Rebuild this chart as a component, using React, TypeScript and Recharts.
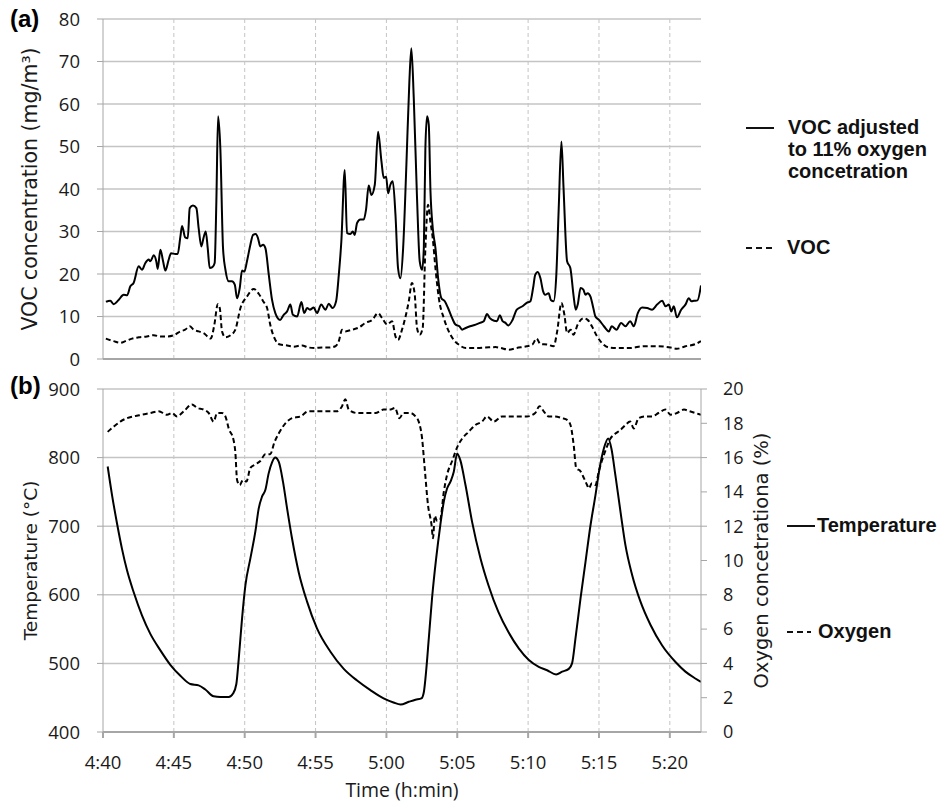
import React from 'react';
import { LineChart, Line, XAxis, YAxis, CartesianGrid, Label, ReferenceLine } from 'recharts';

// minutes after 4:40, value
const vocAdjusted: [number, number][] = [
  [0.2, 13.5], [0.33, 13.6], [0.52, 13.7], [0.75, 12.9], [1.1, 13.9], [1.46, 15.1], [1.7, 15.0],
  [1.93, 17.1], [2.16, 17.9], [2.52, 21.8], [2.75, 21.0], [2.99, 22.6], [3.22, 23.4], [3.34, 23.0],
  [3.58, 24.4], [3.76, 23.0], [3.86, 21.2], [4.05, 25.7], [4.24, 23.0], [4.4, 20.8], [4.64, 23.4],
  [4.8, 24.9], [5.1, 24.7], [5.27, 24.7], [5.46, 28.8], [5.58, 31.3], [5.8, 28.6], [5.98, 28.4],
  [6.12, 35.5], [6.35, 36.1], [6.59, 35.5], [6.75, 30.8], [6.94, 26.5], [7.1, 28.6], [7.25, 30.0],
  [7.39, 26.1], [7.53, 21.4], [7.72, 21.6], [7.88, 22.6], [8.0, 37.1], [8.12, 57.1], [8.28, 49.6],
  [8.47, 26.1], [8.64, 21.0], [8.87, 18.3], [9.1, 18.3], [9.3, 17.5], [9.46, 14.3], [9.65, 16.7],
  [9.81, 20.8], [9.98, 20.6], [10.16, 23.0], [10.4, 26.9], [10.59, 29.2], [10.78, 29.4], [10.94, 28.4],
  [11.1, 26.5], [11.3, 26.9], [11.46, 26.1], [11.7, 19.8], [11.93, 13.9], [12.16, 10.8], [12.5, 9.2],
  [12.75, 10.4], [12.99, 11.2], [13.22, 12.8], [13.4, 10.4], [13.7, 10.0], [14.0, 13.4], [14.2, 10.8],
  [14.4, 12.0], [14.6, 11.6], [14.87, 12.1], [15.1, 10.8], [15.4, 12.8], [15.7, 11.6], [15.93, 13.0],
  [16.2, 12.0], [16.45, 13.6], [16.64, 19.8], [16.82, 27.7], [17.06, 44.5], [17.22, 29.6], [17.46, 29.4],
  [17.62, 30.0], [17.76, 29.2], [17.93, 32.0], [18.16, 32.8], [18.4, 32.8], [18.56, 35.1], [18.75, 40.8],
  [18.94, 38.6], [19.18, 41.0], [19.41, 53.5], [19.65, 46.5], [19.81, 42.6], [19.98, 42.9], [20.12, 39.0],
  [20.28, 41.0], [20.45, 41.8], [20.64, 33.9], [20.82, 21.4], [20.99, 19.0], [21.18, 26.1], [21.41, 45.7],
  [21.62, 65.3], [21.76, 73.1], [21.93, 61.4], [22.16, 37.9], [22.35, 23.0], [22.52, 21.0], [22.64, 26.1],
  [22.75, 49.6], [22.87, 57.1], [22.99, 55.1], [23.11, 39.4], [23.27, 30.8], [23.46, 26.1], [23.65, 19.0],
  [23.88, 14.3], [24.12, 13.6], [24.35, 12.0], [24.64, 9.6], [24.87, 8.1], [25.15, 7.7], [25.34, 6.9],
  [25.6, 7.3], [25.9, 7.7], [26.3, 8.1], [26.6, 8.5], [26.87, 8.9], [27.1, 10.6], [27.3, 9.6], [27.6, 9.0],
  [27.8, 8.9], [28.0, 10.3], [28.2, 8.9], [28.4, 8.5], [28.6, 7.9], [28.9, 9.2], [29.2, 11.6], [29.6, 12.4],
  [29.9, 13.2], [30.16, 13.6], [30.35, 16.7], [30.5, 19.8], [30.68, 20.5], [30.87, 19.0], [31.06, 15.9],
  [31.2, 15.1], [31.45, 15.5], [31.6, 13.9], [31.8, 13.6], [31.99, 19.8], [32.16, 35.5], [32.35, 51.2],
  [32.5, 40.2], [32.75, 23.0], [32.98, 21.4], [33.2, 15.1], [33.36, 11.6], [33.5, 12.8], [33.7, 16.7],
  [33.9, 16.3], [34.05, 15.1], [34.2, 15.5], [34.4, 14.7], [34.6, 12.0], [34.75, 10.0], [35.0, 9.2],
  [35.35, 7.7], [35.7, 6.5], [35.9, 7.7], [36.24, 6.9], [36.56, 8.5], [36.87, 7.7], [37.2, 8.9],
  [37.46, 7.7], [37.74, 10.8], [38.05, 12.1], [38.4, 12.0], [38.75, 11.6], [39.1, 12.8], [39.46, 13.7],
  [39.7, 12.4], [39.93, 12.8], [40.1, 11.2], [40.28, 12.4], [40.5, 9.8], [40.8, 11.6], [41.1, 12.8],
  [41.34, 14.3], [41.52, 13.6], [41.7, 13.7], [41.95, 13.8], [42.2, 17.3],
];

const vocRaw: [number, number][] = [
  [0.2, 4.8], [0.75, 4.2], [1.22, 3.8], [1.58, 4.2], [2.05, 4.8], [2.52, 5.1], [3.1, 5.3], [3.58, 5.6],
  [4.05, 5.3], [4.5, 5.3], [5.0, 5.6], [5.46, 6.5], [5.8, 6.9], [6.12, 7.7], [6.4, 6.9], [6.75, 6.5],
  [7.1, 6.1], [7.6, 4.8], [7.86, 8.1], [8.1, 12.9], [8.24, 12.0], [8.4, 6.5], [8.64, 5.1], [9.0, 5.6],
  [9.34, 6.9], [9.7, 12.0], [10.16, 14.7], [10.64, 16.5], [11.0, 15.3], [11.34, 13.4], [11.58, 12.0],
  [11.8, 8.1], [12.16, 4.5], [12.5, 3.4], [13.0, 3.2], [13.46, 2.9], [14.05, 3.2], [14.5, 2.7],
  [14.98, 2.6], [15.45, 2.7], [15.93, 2.7], [16.4, 3.0], [16.64, 4.2], [16.87, 6.9], [17.1, 6.5],
  [17.58, 6.9], [18.05, 7.4], [18.52, 8.5], [19.0, 9.2], [19.41, 10.8], [19.7, 9.6], [20.05, 8.1],
  [20.4, 8.9], [20.64, 5.3], [20.82, 4.5], [21.1, 6.9], [21.58, 13.6], [21.8, 17.9], [22.0, 15.1],
  [22.16, 7.3], [22.35, 5.7], [22.56, 7.3], [22.75, 26.1], [22.94, 36.3], [23.1, 32.4], [23.27, 28.4],
  [23.46, 21.4], [23.7, 14.3], [24.05, 9.6], [24.4, 6.5], [24.75, 4.5], [25.1, 3.4], [25.6, 2.6],
  [26.3, 2.6], [27.0, 2.7], [27.7, 2.8], [28.05, 2.6], [28.64, 2.2], [29.2, 2.6], [29.9, 3.0],
  [30.3, 3.4], [30.6, 4.8], [30.87, 3.5], [31.35, 3.4], [31.8, 3.0], [32.05, 6.5], [32.35, 13.2],
  [32.56, 10.4], [32.75, 6.1], [33.0, 6.9], [33.2, 5.7], [33.5, 8.1], [33.9, 9.6], [34.2, 9.2],
  [34.5, 7.7], [34.87, 5.3], [35.2, 3.8], [35.7, 2.7], [36.3, 2.6], [37.2, 2.6], [38.16, 3.0],
  [39.1, 3.0], [40.05, 2.7], [40.5, 2.4], [41.1, 3.0], [41.8, 3.5], [42.2, 4.2],
];

const temperature: [number, number][] = [
  [0.33, 787], [0.64, 745], [0.99, 704], [1.34, 667], [1.69, 636], [2.16, 604], [2.75, 570], [3.34, 543],
  [4.05, 519], [4.75, 498], [5.46, 482], [6.16, 470], [6.75, 468], [7.22, 462], [7.81, 452], [8.28, 451],
  [8.87, 451], [9.18, 456], [9.41, 470], [9.58, 507], [9.81, 565], [10.05, 614], [10.4, 653], [10.75, 692],
  [10.99, 726], [11.22, 743], [11.46, 753], [11.69, 777], [11.93, 793], [12.16, 800], [12.4, 794],
  [12.7, 765], [12.99, 726], [13.34, 682], [13.81, 633], [14.4, 590], [15.1, 551], [16.05, 517],
  [16.99, 492], [17.93, 475], [18.87, 461], [19.8, 449], [20.5, 443], [21.0, 440], [21.58, 444],
  [22.05, 447], [22.47, 449], [22.64, 458], [22.8, 488], [22.99, 536], [23.22, 595], [23.51, 653],
  [23.8, 701], [24.05, 736], [24.28, 755], [24.52, 765], [24.75, 779], [24.99, 806], [25.22, 796],
  [25.58, 760], [26.05, 706], [26.64, 653], [27.2, 614], [27.9, 575], [28.6, 546], [29.34, 522],
  [30.05, 505], [30.75, 495], [31.34, 490], [31.98, 484], [32.4, 488], [32.87, 492], [33.1, 500],
  [33.34, 536], [33.7, 595], [34.05, 648], [34.4, 701], [34.75, 745], [35.04, 784], [35.34, 813],
  [35.65, 828], [35.88, 813], [36.16, 774], [36.52, 721], [36.87, 672], [37.34, 629], [37.93, 590],
  [38.64, 556], [39.46, 526], [40.4, 502], [41.1, 488], [41.8, 478], [42.2, 473],
];

const oxygen: [number, number][] = [
  [0.33, 17.5], [0.75, 17.8], [1.22, 18.1], [1.69, 18.3], [2.16, 18.4], [2.75, 18.5], [3.34, 18.6],
  [3.93, 18.7], [4.52, 18.5], [4.87, 18.6], [5.22, 18.4], [5.7, 18.7], [6.28, 19.1], [6.64, 18.9],
  [7.1, 18.8], [7.46, 18.6], [7.81, 18.1], [8.05, 18.6], [8.4, 18.6], [8.64, 18.4], [8.87, 17.7],
  [9.22, 17.0], [9.34, 16.3], [9.46, 14.7], [9.65, 14.4], [9.88, 14.7], [10.12, 14.6], [10.4, 15.4],
  [10.75, 15.6], [11.1, 15.8], [11.46, 16.2], [11.8, 16.2], [12.1, 16.9], [12.4, 17.4], [12.87, 18.0],
  [13.34, 18.3], [13.93, 18.4], [14.5, 18.7], [15.1, 18.7], [15.8, 18.7], [16.5, 18.7], [16.87, 19.0],
  [17.1, 19.4], [17.34, 18.8], [17.93, 18.6], [18.64, 18.6], [19.22, 18.6], [19.8, 18.8], [20.3, 18.8],
  [20.6, 18.9], [20.92, 18.3], [21.2, 18.6], [21.7, 18.6], [22.05, 18.4], [22.28, 18.1], [22.52, 17.1],
  [22.7, 15.4], [22.94, 13.2], [23.18, 12.1], [23.29, 11.3], [23.41, 12.6], [23.58, 12.3], [23.8, 12.4],
  [24.05, 14.0], [24.28, 15.0], [24.64, 15.8], [24.99, 16.6], [25.34, 17.1], [25.8, 17.5], [26.28, 17.9],
  [26.75, 18.1], [27.1, 18.4], [27.58, 18.1], [28.16, 18.4], [28.75, 18.4], [29.34, 18.4], [29.93, 18.4],
  [30.5, 18.6], [30.8, 19.0], [31.1, 18.7], [31.45, 18.4], [31.9, 18.4], [32.4, 18.3], [32.75, 18.2],
  [32.99, 17.9], [33.22, 16.7], [33.39, 15.4], [33.7, 15.2], [33.94, 14.8], [34.16, 14.4], [34.28, 14.2],
  [34.5, 14.5], [34.75, 14.4], [34.99, 15.2], [35.2, 15.8], [35.5, 16.5], [35.8, 17.1], [36.16, 17.4],
  [36.5, 17.6], [36.87, 17.9], [37.2, 18.1], [37.46, 17.7], [37.8, 18.3], [38.28, 18.4], [38.75, 18.4],
  [39.2, 18.6], [39.7, 18.8], [40.05, 18.5], [40.5, 18.6], [41.0, 18.8], [41.4, 18.7], [41.8, 18.6],
  [42.2, 18.5],
];

const timeTicks = [0, 5, 10, 15, 20, 25, 30, 35, 40];
const vocTicks = [0, 10, 20, 30, 40, 50, 60, 70, 80];
const tempTicks = [400, 500, 600, 700, 800, 900];
const oxygenTicks = [0, 2, 4, 6, 8, 10, 12, 14, 16, 18, 20];

const toRows = (pts: [number, number][]) => pts.map(([t, v]) => ({ t, v }));

const fmtTime = (t: number) => {
  const total = 280 + t;
  const h = Math.floor(total / 60);
  const m = Math.round(total % 60);
  return `${h}:${String(m).padStart(2, '0')}`;
};

const gridColor = '#c4c4c4';
const axisColor = '#a6a6a6';
const tickStyle = { fontFamily: 'Open Sans', fontSize: 18.5, fill: '#1a1a1a' };
const titleStyle = { fontFamily: 'DejaVu Sans', fill: '#1a1a1a', textAnchor: 'middle' as const };
const legendFont = { fontFamily: 'Liberation Sans', fontWeight: 'bold' as const, fontSize: 20, lineHeight: '22px', color: '#111', whiteSpace: 'nowrap' as const };
const xDomain: [number, number] = [0, 42.2];

const LegendLine = ({ left, top, width, dashed }: { left: number; top: number; width: number; dashed?: boolean }) => (
  <svg width={width} height={4} style={{ position: 'absolute', left, top: top - 2 }}>
    <line x1={0} y1={2} x2={width} y2={2} stroke="#111" strokeWidth={2} strokeDasharray={dashed ? '6 4' : undefined} />
  </svg>
);

const App = () => {
  return (
    <div style={{ position: 'absolute', left: 0, top: 0, width: 940, height: 805, background: '#fff', overflow: 'hidden' }}>
      <div style={{ position: 'absolute', left: 10, top: 5, fontFamily: 'Liberation Sans', fontWeight: 'bold', fontSize: 24 }}>(a)</div>
      <div style={{ position: 'absolute', left: 10, top: 372, fontFamily: 'Liberation Sans', fontWeight: 'bold', fontSize: 24 }}>(b)</div>

      <div style={{ position: 'absolute', left: 0, top: 0 }}>
        <LineChart width={940} height={380} margin={{ top: 19, right: 239, bottom: 11, left: 43 }}>
          <CartesianGrid vertical={false} stroke={gridColor} strokeWidth={1.5} />
          {timeTicks.slice(1).map((t) => (
            <ReferenceLine key={t} x={t} stroke={gridColor} strokeDasharray="4 3" />
          ))}
          <XAxis
            dataKey="t"
            type="number"
            domain={xDomain}
            ticks={timeTicks}
            allowDataOverflow
            tick={false}
            height={10}
            stroke={axisColor}
            strokeWidth={2}
          />
          <YAxis
            domain={[0, 80]}
            ticks={vocTicks}
            width={60}
            stroke={axisColor}
            tick={tickStyle}
            tickMargin={17}
          >
            <Label value="VOC concentration (mg/m³)" angle={-90} position="insideLeft" offset={-13} style={{ ...titleStyle, fontSize: 20.5 }} />
          </YAxis>
          <Line data={toRows(vocRaw)} dataKey="v" type="monotone" stroke="#000" strokeWidth={2} strokeDasharray="5 3" dot={false} isAnimationActive={false} />
          <Line data={toRows(vocAdjusted)} dataKey="v" type="monotone" stroke="#000" strokeWidth={2} dot={false} isAnimationActive={false} />
        </LineChart>
      </div>

      <div style={{ position: 'absolute', left: 0, top: 370 }}>
        <LineChart width={940} height={435} margin={{ top: 19, right: 179, bottom: 0, left: 43 }}>
          <CartesianGrid vertical={false} yAxisId="temp" stroke={gridColor} strokeWidth={1.5} />
          {timeTicks.slice(1).map((t) => (
            <ReferenceLine key={t} x={t} yAxisId="temp" stroke={gridColor} strokeDasharray="4 3" />
          ))}
          <XAxis
            dataKey="t"
            type="number"
            domain={xDomain}
            ticks={timeTicks}
            allowDataOverflow
            tickFormatter={fmtTime}
            height={73}
            stroke={axisColor}
            strokeWidth={2}
            tick={tickStyle}
            tickMargin={18}
          >
            <Label value="Time (h:min)" position="insideBottom" offset={8} style={{ ...tickStyle, fontSize: 19.5 }} />
          </XAxis>
          <YAxis
            yAxisId="temp"
            domain={[400, 900]}
            ticks={tempTicks}
            width={60}
            stroke={axisColor}
            tick={tickStyle}
            tickMargin={17}
          >
            <Label value="Temperature (°C)" angle={-90} position="insideLeft" offset={-13} style={{ ...titleStyle, fontSize: 18.5 }} />
          </YAxis>
          <YAxis
            yAxisId="oxy"
            orientation="right"
            domain={[0, 20]}
            ticks={oxygenTicks}
            width={60}
            stroke={axisColor}
            tick={{ ...tickStyle, fontSize: 18 }}
            tickMargin={16}
          >
            <Label value="Oxygen concetrationa (%)" angle={-90} position="insideRight" offset={0} style={{ ...titleStyle, fontSize: 19.5 }} />
          </YAxis>
          <Line yAxisId="oxy" data={toRows(oxygen)} dataKey="v" type="monotone" stroke="#000" strokeWidth={2} strokeDasharray="5 3" dot={false} isAnimationActive={false} />
          <Line yAxisId="temp" data={toRows(temperature)} dataKey="v" type="monotone" stroke="#000" strokeWidth={2} dot={false} isAnimationActive={false} />
        </LineChart>
      </div>

      <LegendLine left={746} top={128} width={28} />
      <div style={{ position: 'absolute', left: 788, top: 116, ...legendFont }}>
        VOC adjusted<br />to 11% oxygen<br />concetration
      </div>
      <LegendLine left={746} top={248} width={26} dashed />
      <div style={{ position: 'absolute', left: 787, top: 236, ...legendFont }}>VOC</div>

      <LegendLine left={787} top={526} width={28} />
      <div style={{ position: 'absolute', left: 817, top: 514, ...legendFont }}>Temperature</div>
      <LegendLine left={787} top={632} width={24} dashed />
      <div style={{ position: 'absolute', left: 818, top: 620, ...legendFont }}>Oxygen</div>
    </div>
  );
};

export default App;
